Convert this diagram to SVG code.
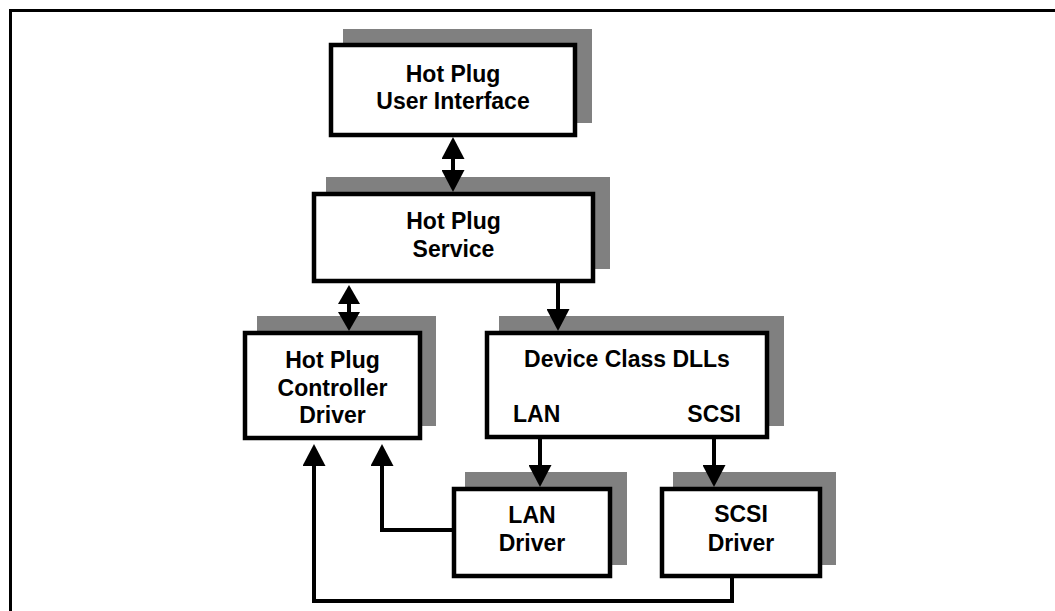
<svg xmlns="http://www.w3.org/2000/svg" width="1055" height="611" viewBox="0 0 1055 611">
  <style>
    .shadow { fill: #808080; stroke: none; }
    .box { fill: #ffffff; stroke: #000000; stroke-width: 4.5; }
    .lbl { font-family: "Liberation Sans", Arial, sans-serif; font-weight: bold; font-size: 23px; fill: #000000; text-anchor: middle; }
    .conn { fill: none; stroke: #000000; stroke-width: 4; }
    .frame { fill: none; stroke: #000000; stroke-width: 3; }
  </style>
  <defs>
    <marker id="ah" markerUnits="userSpaceOnUse" viewBox="0 0 22 23" markerWidth="22" markerHeight="23" refX="2" refY="11.5" orient="auto-start-reverse">
      <path d="M0,0 L22,11.5 L0,23 Z" fill="#000000"/>
    </marker>
    <marker id="ahs" markerUnits="userSpaceOnUse" viewBox="0 0 19 22" markerWidth="19" markerHeight="22" refX="2" refY="11" orient="auto-start-reverse">
      <path d="M0,0 L19,11 L0,22 Z" fill="#000000"/>
    </marker>
  </defs>
  <rect width="1055" height="611" fill="#ffffff"/>
  <path class="frame" d="M10.5,611 L10.5,10.5 L1055,10.5"/>

  <g id="ui">
    <rect class="shadow" x="343" y="29" width="249" height="94"/>
    <rect class="box" x="331" y="45" width="244" height="90"/>
    <text class="lbl" x="453" y="82">Hot Plug</text>
    <text class="lbl" x="453" y="109">User Interface</text>
  </g>

  <g id="service">
    <rect class="shadow" x="326" y="177" width="284" height="92"/>
    <rect class="box" x="314" y="194" width="279" height="87"/>
    <text class="lbl" x="453.5" y="229">Hot Plug</text>
    <text class="lbl" x="453.5" y="257">Service</text>
  </g>

  <g id="controller">
    <rect class="shadow" x="257" y="316" width="179" height="110"/>
    <rect class="box" x="245" y="333" width="175" height="105"/>
    <text class="lbl" x="332.5" y="368">Hot Plug</text>
    <text class="lbl" x="332.5" y="396">Controller</text>
    <text class="lbl" x="332.5" y="423">Driver</text>
  </g>

  <g id="dlls">
    <rect class="shadow" x="499" y="316" width="285" height="110"/>
    <rect class="box" x="487" y="333" width="280" height="104"/>
    <text class="lbl" x="627" y="367">Device Class DLLs</text>
    <text class="lbl" x="513" y="422" style="text-anchor:start">LAN</text>
    <text class="lbl" x="741" y="422" style="text-anchor:end">SCSI</text>
  </g>

  <g id="lan-driver">
    <rect class="shadow" x="465" y="472" width="162" height="93"/>
    <rect class="box" x="454" y="489" width="156" height="87"/>
    <text class="lbl" x="532" y="523">LAN</text>
    <text class="lbl" x="532" y="551">Driver</text>
  </g>

  <g id="scsi-driver">
    <rect class="shadow" x="673" y="472" width="163" height="93"/>
    <rect class="box" x="662" y="489" width="158" height="87"/>
    <text class="lbl" x="741" y="522">SCSI</text>
    <text class="lbl" x="741" y="551">Driver</text>
  </g>

  <g id="connectors">
    <line class="conn" x1="453" y1="157" x2="453" y2="172" marker-start="url(#ah)" marker-end="url(#ah)"/>
    <line class="conn" x1="349" y1="302" x2="349" y2="314" marker-start="url(#ahs)" marker-end="url(#ahs)"/>
    <line class="conn" x1="558" y1="283" x2="558" y2="311" marker-end="url(#ah)"/>
    <line class="conn" x1="540" y1="439" x2="540" y2="467" marker-end="url(#ah)"/>
    <line class="conn" x1="714" y1="439" x2="714" y2="467" marker-end="url(#ah)"/>
    <polyline class="conn" points="452,530 382,530 382,464" marker-end="url(#ah)"/>
    <polyline class="conn" points="732,578 732,601 314,601 314,464" marker-end="url(#ah)"/>
  </g>
</svg>
